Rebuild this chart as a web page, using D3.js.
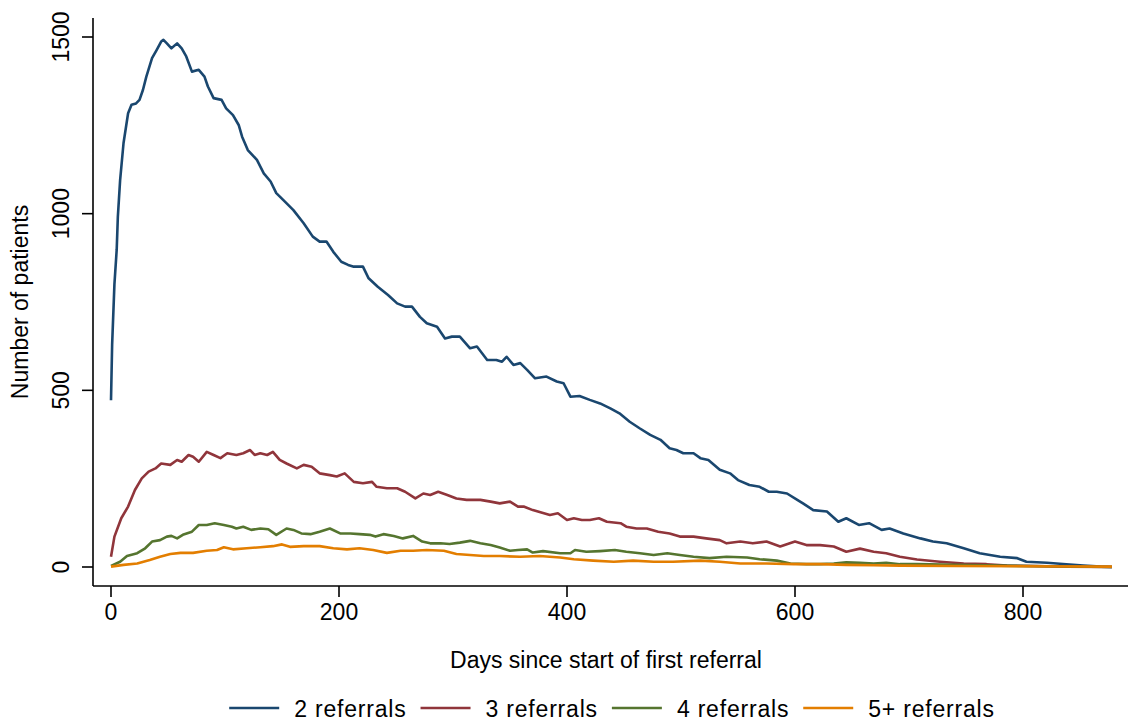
<!DOCTYPE html>
<html>
<head>
<meta charset="utf-8">
<script src="https://cdn.jsdelivr.net/npm/d3@7"></script>
<style>
  html, body { margin: 0; padding: 0; background: #fff; }
  svg { display: block; }
  text { font-family: "Liberation Sans", Arial, Helvetica, sans-serif; fill: #000; }
</style>
</head>
<body>
<svg id="chart" width="1128" height="721"></svg>
<script>
// Patients still active by days since first referral, one series per referral count
const seriesNames = ["2 referrals", "3 referrals", "4 referrals", "5+ referrals"];
const seriesColors = ["#1a476f", "#90353b", "#55752f", "#e37e00"];

const days2 = [0,1,3,5,6,8,11,15,18,22,25,28,31,36,40,44,46,49,53,58,62,66,71,77,82,85,90,97,101,107,112,115,120,128,134,140,145,151,160,169,177,183,189,195,202,208,213,221,226,234,243,251,258,264,271,277,286,293,299,306,315,321,330,338,343,347,353,359,365,372,382,391,397,403,411,420,429,438,446,455,464,473,482,490,496,502,511,517,524,534,543,550,560,569,577,584,593,602,607,616,628,638,645,656,665,676,683,695,710,721,733,748,762,780,795,803,821,838,853,868,878];
const vals2 = [472,630,800,898,991,1095,1200,1284,1308,1312,1322,1350,1388,1440,1463,1487,1492,1482,1468,1482,1468,1445,1402,1407,1388,1360,1327,1322,1298,1279,1251,1218,1180,1152,1114,1091,1058,1039,1010,973,935,921,921,892,864,855,850,850,817,793,770,746,737,737,708,690,680,647,652,652,619,624,586,586,581,595,572,577,558,534,539,525,520,482,484,473,463,449,435,411,392,374,360,336,331,322,322,308,303,275,265,246,232,227,213,213,208,190,180,161,157,128,138,119,124,105,109,95,81,72,67,53,39,29,25,15,12,8,4,1,0];

const days3 = [0,3,9,15,21,27,33,39,44,52,58,62,68,72,77,84,90,96,102,110,116,122,126,131,137,142,148,154,163,169,176,183,192,198,205,213,221,229,233,242,251,258,267,274,280,287,295,303,312,324,333,341,350,357,362,370,385,392,400,406,413,420,428,435,447,452,461,470,480,490,499,511,522,534,540,552,563,575,587,600,610,622,634,645,657,669,680,692,707,727,748,768,786,809,838,878];
const vals3 = [29,86,138,171,218,251,270,279,293,289,303,298,317,312,298,326,317,308,322,317,322,331,317,322,317,326,303,293,279,289,284,265,260,256,265,241,237,241,227,223,223,213,194,208,204,213,204,194,190,190,185,180,185,171,171,161,147,152,133,138,133,133,138,128,124,114,109,109,100,95,86,86,81,76,67,72,67,72,58,72,62,62,58,43,52,43,39,29,21,15,10,8,4,3,1,0];

const days4 = [0,8,14,23,30,36,43,49,53,58,63,71,77,84,91,99,106,110,116,123,131,138,145,154,160,167,175,183,192,201,210,218,227,232,239,248,256,265,273,280,289,297,306,315,324,333,341,350,357,365,370,379,394,403,407,417,429,442,452,464,476,488,499,511,525,540,558,569,584,596,610,622,634,645,657,669,680,692,707,740,780,820,878];
const vals4 = [3,15,31,39,53,72,76,86,88,81,91,100,119,119,124,119,114,109,114,105,109,107,91,109,105,95,93,100,109,95,95,93,91,86,93,88,81,88,72,67,67,65,69,74,67,62,55,46,48,50,41,45,39,39,48,43,45,48,43,39,34,39,34,29,25,29,27,22,18,10,8,8,10,13,12,10,12,8,8,6,4,2,0];

const days5 = [0,11,23,34,43,52,61,72,84,93,99,107,119,131,142,150,157,169,183,195,207,218,230,242,254,265,277,292,303,315,327,341,359,376,394,406,423,441,458,476,493,517,534,552,575,599,622,645,669,692,740,800,878];
const vals5 = [1,6,10,20,29,37,40,40,46,48,56,50,53,56,59,64,57,59,59,53,50,53,48,40,46,46,48,46,37,34,31,31,29,31,27,22,18,15,18,15,15,18,15,10,10,8,8,6,5,4,3,2,1];

const xTicks = [0, 200, 400, 600, 800];
const yTicks = [0, 500, 1000, 1500];

const seriesDays = [days2, days3, days4, days5];
const seriesVals = [vals2, vals3, vals4, vals5];

const svg = d3.select("#chart");

const x = d3.scaleLinear().domain([0, 800]).range([111, 1023]);
const y = d3.scaleLinear().domain([0, 1500]).range([567, 37]);

const axisLeft = 93, axisBottom = 586, axisTop = 18, axisRight = 1128;

// Y axis
const gy = svg.append("g").attr("transform", `translate(${axisLeft},0)`);
gy.append("line")
  .attr("x1", 0).attr("x2", 0).attr("y1", axisTop).attr("y2", axisBottom)
  .attr("stroke", "#000").attr("stroke-width", 1.6);
gy.selectAll("line.tick").data(yTicks).join("line")
  .attr("class", "tick")
  .attr("x1", -11).attr("x2", 0)
  .attr("y1", d => y(d)).attr("y2", d => y(d))
  .attr("stroke", "#000").attr("stroke-width", 1.6);
gy.selectAll("text").data(yTicks).join("text")
  .attr("transform", d => `translate(-24,${y(d)}) rotate(-90)`)
  .attr("text-anchor", "middle")
  .style("font-size", "23px")
  .text(d => d);

// X axis
const gx = svg.append("g").attr("transform", `translate(0,${axisBottom})`);
gx.append("line")
  .attr("x1", axisLeft).attr("x2", axisRight).attr("y1", 0).attr("y2", 0)
  .attr("stroke", "#000").attr("stroke-width", 1.6);
gx.selectAll("line.tick").data(xTicks).join("line")
  .attr("class", "tick")
  .attr("x1", d => x(d)).attr("x2", d => x(d))
  .attr("y1", 0).attr("y2", 11)
  .attr("stroke", "#000").attr("stroke-width", 1.6);
gx.selectAll("text").data(xTicks).join("text")
  .attr("x", d => x(d)).attr("y", 34)
  .attr("text-anchor", "middle")
  .style("font-size", "23px")
  .text(d => d);

// Axis titles
svg.append("text")
  .attr("transform", `translate(28,${(axisTop + axisBottom) / 2}) rotate(-90)`)
  .attr("text-anchor", "middle")
  .style("font-size", "23px")
  .text("Number of patients");

svg.append("text")
  .attr("x", 606).attr("y", 668)
  .attr("text-anchor", "middle")
  .style("font-size", "23px")
  .text("Days since start of first referral");

// Series lines
const line = d3.line()
  .x(d => x(d[0]))
  .y(d => y(d[1]));

seriesNames.forEach((name, i) => {
  const pts = seriesDays[i].map((d, j) => [d, seriesVals[i][j]]);
  svg.append("path")
    .datum(pts)
    .attr("fill", "none")
    .attr("stroke", seriesColors[i])
    .attr("stroke-width", 2.6)
    .attr("stroke-linejoin", "round")
    .attr("d", line);
});

// Legend
const legend = svg.append("g");
const swatch = 50, gapAfterSwatch = 15, gapAfterText = 14;
const items = legend.selectAll("g").data(seriesNames).join("g");
items.append("line")
  .attr("x1", 0).attr("x2", swatch).attr("y1", 0).attr("y2", 0)
  .attr("stroke", (d, i) => seriesColors[i]).attr("stroke-width", 2.6);
items.append("text")
  .attr("x", swatch + gapAfterSwatch).attr("y", 9)
  .style("font-size", "23px")
  .style("letter-spacing", "0.8px")
  .text(d => d);
const widths = [];
items.each(function () {
  widths.push(this.querySelector("text").getComputedTextLength());
});
const total = d3.sum(widths, w => swatch + gapAfterSwatch + w) + gapAfterText * (widths.length - 1);
let cursor = 612 - total / 2;
items.attr("transform", (d, i) => {
  const t = `translate(${cursor},708)`;
  cursor += swatch + gapAfterSwatch + widths[i] + gapAfterText;
  return t;
});
</script>
</body>
</html>
